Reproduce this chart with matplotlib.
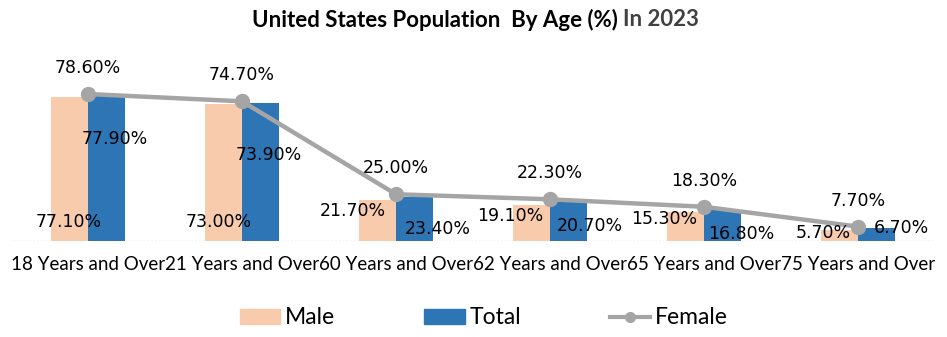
import numpy as np
import matplotlib
matplotlib.use("Agg")
import matplotlib.pyplot as plt
from matplotlib.lines import Line2D
from matplotlib.patches import Patch

# data
categories = ["18 Years and Over", "21 Years and Over", "60 Years and Over",
              "62 Years and Over", "65 Years and Over", "75 Years and Over"]
male = [77.1, 73.0, 21.7, 19.1, 15.3, 5.7]
total = [77.9, 73.9, 23.4, 20.7, 16.8, 6.7]
female = [78.6, 74.7, 25.0, 22.3, 18.3, 7.7]

# label nudges in pixels (dx, dy)
male_off = [(-1, 19), (-5, 19), (-25, 30), (-21, 25), (-21, 22), (-16, 8)]
total_off = [(8, -44), (8, -52), (23, -32), (21, -24), (19, -24), (25, 0)]

font = "Lato"

c_male = "#F8CBAD"
c_total = "#2E75B6"
c_female = "#A5A5A5"

fig = plt.figure(figsize=(9.47, 3.37), dpi=100)
ax = fig.add_axes([11 / 947, 1 - 241 / 337, 924 / 947, 187 / 337])

x = np.arange(len(categories))
w = 0.24
ax.bar(x - w / 2, male, w, color=c_male, zorder=2)
ax.bar(x + w / 2, total, w, color=c_total, zorder=2)
ax.plot(x, female, color=c_female, lw=3.2, marker="o", ms=10, zorder=3)

ax.set_xlim(-0.5, len(categories) - 0.5)
ax.set_ylim(0, 100)
ax.axhline(0, color="#C8C8C8", lw=1, ls=":", zorder=1)
for s in ax.spines.values():
    s.set_visible(False)
ax.set_yticks([])
ax.set_xticks(x)
ax.set_xticklabels(categories, fontsize=13.5, family=font)
ax.tick_params(axis="x", length=0, pad=11)

lab_kw = dict(textcoords="offset pixels", ha="center", va="center",
              fontsize=12.5, color="black", zorder=5)
for i in range(len(categories)):
    ax.annotate(f"{male[i]:.2f}%", (x[i] - w / 2, 0), xytext=male_off[i], **lab_kw)
    ax.annotate(f"{total[i]:.2f}%", (x[i] + w / 2, total[i]), xytext=total_off[i], **lab_kw)
    ax.annotate(f"{female[i]:.2f}%", (x[i], female[i]), xytext=(0, 26), **lab_kw)

# title in two colours
t1 = fig.text(0.266, 1 - 20 / 337, "United States Population  By Age (%) ", fontsize=16,
              fontweight="bold", family=font, va="center", ha="left")
ax.annotate("In 2023", xy=(1, 0.5), xycoords=t1, va="center", ha="left", fontsize=16,
            fontweight="bold", family=font, color="#404040", annotation_clip=False)

handles = [Patch(color=c_male), Patch(color=c_total),
           Line2D([], [], color=c_female, lw=3, marker="o", ms=7)]
fig.legend(handles, ["Male", "Total", "Female"], loc="center",
           bbox_to_anchor=(484 / 947, 1 - 318 / 337),
           ncol=3, frameon=False, prop={"family": font, "size": 16.5},
           handlelength=1.75, handleheight=0.6, columnspacing=3.9, handletextpad=0.2)

fig.savefig("out.png", dpi=100)
